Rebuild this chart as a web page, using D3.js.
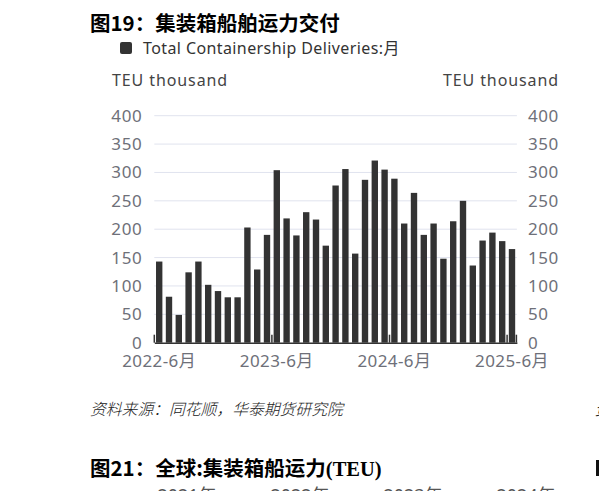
<!DOCTYPE html>
<html>
<head>
<meta charset="utf-8">
<script src="https://cdn.jsdelivr.net/npm/d3@7"></script>
<style>
  body { margin: 0; background: #fff; }
  svg { display: block; }
</style>
</head>
<body>
<div id="chart"></div>
<script>
// monthly deliveries, TEU thousand
const months = [
  "2022-6", "2022-7", "2022-8", "2022-9", "2022-10", "2022-11", "2022-12",
  "2023-1", "2023-2", "2023-3", "2023-4", "2023-5", "2023-6", "2023-7", "2023-8",
  "2023-9", "2023-10", "2023-11", "2023-12", "2024-1", "2024-2", "2024-3", "2024-4",
  "2024-5", "2024-6", "2024-7", "2024-8", "2024-9", "2024-10", "2024-11", "2024-12",
  "2025-1", "2025-2", "2025-3", "2025-4", "2025-5", "2025-6"
];
const deliveries = [
  143, 81, 49, 124, 143, 102, 91, 80, 80, 203, 129, 190, 304,
  219, 189, 230, 217, 171, 277, 306, 157, 287, 321, 305, 289,
  210, 264, 190, 210, 148, 214, 250, 136, 180, 194, 179, 165
];
const labelMonths = ["2022-6", "2023-6", "2024-6", "2025-6"];
const yTicks = [0, 50, 100, 150, 200, 250, 300, 350, 400];
const nextYears = ["2021年", "2022年", "2023年", "2024年"];

const W = 599, H = 491;
const plotLeft = 154.3, plotRight = 516.9, plotTop = 115.7, plotBottom = 342.7;
const labelColor = "#6e7079";
const font = "'Noto Sans', 'Noto Sans CJK SC', sans-serif";
const cjk = "'Noto Sans CJK SC', sans-serif";

const svg = d3.select("#chart").append("svg")
    .attr("width", W)
    .attr("height", H)
    .style("font-family", font);

const x = d3.scaleBand()
    .domain(months)
    .range([plotLeft, plotRight])
    .paddingInner(0.35)
    .paddingOuter(0.175);

const y = d3.scaleLinear()
    .domain([0, 400])
    .range([plotBottom, plotTop]);

// title
svg.append("text")
    .attr("x", 90).attr("y", 30.5)
    .attr("font-family", cjk)
    .attr("font-weight", "bold")
    .attr("font-size", 20.5)
    .attr("fill", "#000")
    .text("图19：集装箱船舶运力交付");

// legend
svg.append("rect")
    .attr("x", 120).attr("y", 42)
    .attr("width", 12).attr("height", 12)
    .attr("rx", 2)
    .attr("fill", "#333");
svg.append("text")
    .attr("x", 143).attr("y", 54)
    .attr("font-size", 16)
    .attr("fill", "#333")
    .attr("letter-spacing", 0.4)
    .text("Total Containership Deliveries:月");

// axis names
svg.append("text")
    .attr("x", 112).attr("y", 86)
    .attr("font-size", 16)
    .attr("fill", "#444")
    .attr("letter-spacing", 0.9)
    .text("TEU thousand");
svg.append("text")
    .attr("x", 559).attr("y", 86)
    .attr("text-anchor", "end")
    .attr("font-size", 16)
    .attr("fill", "#444")
    .attr("letter-spacing", 0.9)
    .text("TEU thousand");

// grid
svg.append("g")
    .selectAll("line")
    .data(yTicks.filter(d => d > 0))
    .join("line")
    .attr("x1", plotLeft).attr("x2", plotRight)
    .attr("y1", d => y(d)).attr("y2", d => y(d))
    .attr("stroke", "#e0e3ee")
    .attr("stroke-width", 1);

// y axes
const yLeft = svg.append("g")
    .attr("transform", `translate(${plotLeft},0)`)
    .call(d3.axisLeft(y).tickValues(yTicks).tickSize(0).tickPadding(12));
const yRight = svg.append("g")
    .attr("transform", `translate(${plotRight},0)`)
    .call(d3.axisRight(y).tickValues(yTicks).tickSize(0).tickPadding(11));
[yLeft, yRight].forEach(g => {
    g.select(".domain").remove();
    g.selectAll("text")
        .attr("font-family", font)
        .attr("font-size", 17)
        .attr("fill", labelColor)
        .attr("letter-spacing", 0.6);
});

// bars
svg.append("g")
    .selectAll("rect")
    .data(months.map((m, i) => ({ m, v: deliveries[i] })))
    .join("rect")
    .attr("x", d => x(d.m))
    .attr("y", d => y(d.v))
    .attr("width", x.bandwidth())
    .attr("height", d => y(0) - y(d.v))
    .attr("fill", "#333");

// x axis
const xAxis = svg.append("g")
    .attr("transform", `translate(0,${plotBottom})`)
    .call(d3.axisBottom(x).tickValues(labelMonths).tickSize(0).tickPadding(12.5)
        .tickFormat(d => d + "月"));
xAxis.select(".domain")
    .attr("stroke", "#333")
    .attr("stroke-width", 1.5);
xAxis.selectAll("text")
    .attr("font-family", font)
    .attr("font-size", 17)
    .attr("fill", labelColor)
    .attr("letter-spacing", 0.4);

// inward tick marks at band boundaries
const halfGap = x.step() * x.paddingInner() / 2;
const tickPos = labelMonths.map(m => x(m) - halfGap).concat([plotRight - 0.5]);
svg.append("g")
    .selectAll("line")
    .data(tickPos)
    .join("line")
    .attr("x1", d => d).attr("x2", d => d)
    .attr("y1", plotBottom).attr("y2", plotBottom - 8)
    .attr("stroke", "#333")
    .attr("stroke-width", 1.5);

// source note
svg.append("text")
    .attr("x", 90).attr("y", 415)
    .attr("font-family", cjk)
    .attr("font-style", "italic")
    .attr("font-size", 15.8)
    .attr("font-weight", 300)
    .attr("fill", "#222")
    .text("资料来源：同花顺，华泰期货研究院");

// neighbouring column's source note, cut at the page edge
svg.append("text")
    .attr("x", 595).attr("y", 415)
    .attr("font-family", cjk)
    .attr("font-style", "italic")
    .attr("font-size", 15.8)
    .attr("fill", "#222")
    .text("资");

// next figure, cut by the page edge
svg.append("text")
    .attr("x", 90).attr("y", 476)
    .attr("font-family", cjk)
    .attr("font-weight", "bold")
    .attr("font-size", 20.5)
    .attr("fill", "#000")
    .text("图21：全球:集装箱船运力")
    .append("tspan")
    .attr("font-family", "'Liberation Serif', serif")
    .text("(TEU)");

const nextX = d3.scalePoint().domain(nextYears).range([187, 526]);
svg.append("g")
    .selectAll("text")
    .data(nextYears)
    .join("text")
    .attr("x", d => nextX(d))
    .attr("y", 502)
    .attr("text-anchor", "middle")
    .attr("font-size", 18)
    .attr("fill", "#555")
    .text(d => d);

// edge fragment of the neighbouring column's title
svg.append("rect")
    .attr("x", 596).attr("y", 460)
    .attr("width", 3).attr("height", 16)
    .attr("fill", "#111");
</script>
</body>
</html>
